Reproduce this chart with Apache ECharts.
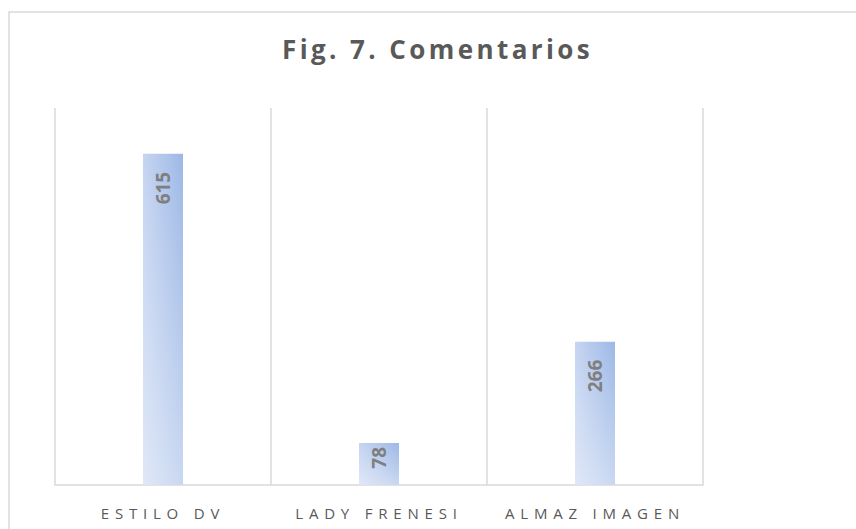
<html>
	<head>
		<meta charset="utf-8">
		<script type="text/javascript" src="https://cdn.jsdelivr.net/npm/echarts@6/dist/echarts.min.js"></script>
		<style>
			/* letter spacing for category labels and title (svg renderer) */
			#myChart text[style*="15px"] { letter-spacing: 5.8px; }
			#myChart text[style*="26px"] { letter-spacing: 3.4px; }
		</style>
	</head>
	<body style="margin: 0; padding: 0; background: #fff;">
		<div id="myChart" style="height: 529px; width: 856px; margin: 0; padding: 0;"></div>
		<script type="text/javascript">
			var categories = ['ESTILO DV', 'LADY FRENESI', 'ALMAZ IMAGEN'];
			var comentarios = [615, 78, 266];
			var yMax = 700;

			var labelData = [];
			for (var i = 0; i < comentarios.length; i++) {
				// short bars keep the label close to the top
				labelData.push({value: comentarios[i], label: {distance: comentarios[i] < 100 ? 4 : 18}});
			}

			var option = {
				animation: false,
				title: {
					text: 'Fig. 7. Comentarios',
					left: 277,
					top: 31,
					textStyle: {
						fontFamily: 'Open Sans',
						fontSize: 26,
						fontWeight: 'bold',
						color: '#595959'
					}
				},
				graphic: [{
					type: 'rect',
					shape: {x: 9, y: 12, width: 900, height: 600},
					style: {fill: 'none', stroke: '#d9d9d9', lineWidth: 1.5},
					silent: true
				}],
				grid: {
					top: 108,
					left: 55,
					right: 153,
					bottom: 44
				},
				xAxis: {
					type: 'category',
					data: categories,
					axisLine: {lineStyle: {color: '#d9d9d9', width: 1.5}},
					axisTick: {show: false},
					splitLine: {show: true, lineStyle: {color: '#d9d9d9', width: 1.5}},
					axisLabel: {
						margin: 20,
						fontFamily: 'Open Sans',
						fontSize: 15,
						color: '#595959'
					}
				},
				yAxis: {
					type: 'value',
					min: 0,
					max: yMax,
					show: false,
					splitLine: {show: false}
				},
				series: [
					{
						type: 'bar',
						barWidth: 40,
						data: comentarios,
						itemStyle: {
							color: {
								type: 'linear', x: 0, y: 0, x2: 1, y2: 0,
								colorStops: [{offset: 0, color: '#c6d5f1'}, {offset: 1, color: '#9db8e6'}]
							}
						}
					},
					{
						type: 'bar',
						barWidth: 40,
						barGap: '-100%',
						data: labelData,
						itemStyle: {
							color: {
								type: 'linear', x: 0, y: 0, x2: 0, y2: 1,
								colorStops: [{offset: 0, color: 'rgba(255,255,255,0)'}, {offset: 1, color: 'rgba(255,255,255,0.45)'}]
							}
						},
						label: {
							show: true,
							position: 'insideTop',
							rotate: 90,
							align: 'right',
							verticalAlign: 'middle',
							fontFamily: 'Open Sans',
							fontSize: 19,
							fontWeight: 'bold',
							color: '#7f7f7f'
						}
					}
				]
			};
			echarts.init(document.getElementById('myChart'), null, {renderer: 'svg'}).setOption(option);
		</script>
	</body>
</html>
